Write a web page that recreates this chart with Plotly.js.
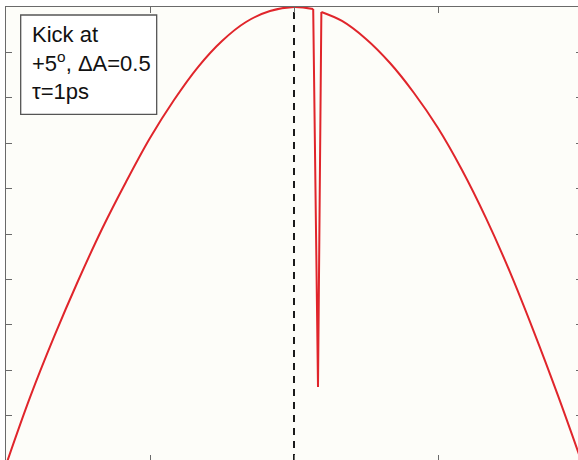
<!DOCTYPE html>
<html>
<head>
<meta charset="utf-8">
<script src="https://cdn.plot.ly/plotly-3.0.1.min.js"></script>
<style>
  html, body { margin: 0; padding: 0; overflow: hidden; background: #ffffff; }
  #chart { width: 590px; height: 470px; }
</style>
</head>
<body>
<div id="chart"></div>
<script>
// Angular profile (degrees) of the normalised signal, with the kick at +5 deg.
const leftAngles  = [-60, -55, -50, -45, -40, -35, -30, -25, -20, -15, -10, -5, 0, 4];
const leftValues  = [0.4956, 0.5700, 0.6366, 0.6982, 0.7555, 0.8073, 0.8557, 0.8976, 0.9339, 0.9626, 0.9835, 0.9956, 1.0, 0.9978];

const kickAngles  = [4, 5, 5.7];
const kickValues  = [0.9978, 0.5815, 0.9945];

const rightAngles = [5.7, 10, 15, 20, 25, 30, 35, 40, 45, 50, 55, 60];
const rightValues = [0.9945, 0.9846, 0.9648, 0.9383, 0.9053, 0.8667, 0.8205, 0.7675, 0.7080, 0.6420, 0.5720, 0.4980];

const xTicks = [-60, -30, 0, 30, 60];
const yTicks = [0.5, 0.55, 0.6, 0.65, 0.7, 0.75, 0.8, 0.85, 0.9, 0.95, 1.0];

const labelLines = ['Kick at', '+5<sup>o</sup>, \u0394A=0.5', '\u03c4=1ps'];

const red = '#e0252b';
const axisGrey = '#6a6a6a';

const traces = [
  { x: leftAngles, y: leftValues, mode: 'lines', line: { color: red, width: 2, shape: 'spline', smoothing: 1 }, hoverinfo: 'skip' },
  { x: kickAngles, y: kickValues, mode: 'lines', line: { color: red, width: 2 }, hoverinfo: 'skip' },
  { x: rightAngles, y: rightValues, mode: 'lines', line: { color: red, width: 2, shape: 'spline', smoothing: 1 }, hoverinfo: 'skip' }
];

const axisCommon = {
  showgrid: false,
  zeroline: false,
  showline: true,
  linecolor: axisGrey,
  linewidth: 1.3,
  mirror: 'ticks',
  ticks: 'inside',
  ticklen: 6,
  tickwidth: 1,
  tickcolor: axisGrey,
  showticklabels: false,
  tickmode: 'array'
};

// text block inside the framed label, one annotation per line
const lineY = [0.9404, 0.8788, 0.8143];
const annotations = labelLines.map((t, i) => ({
  xref: 'paper', yref: 'paper',
  x: 0.041, y: lineY[i],
  xanchor: 'left', yanchor: 'middle',
  text: t, showarrow: false,
  font: { family: 'Liberation Sans, Arial, sans-serif', size: 22, color: '#111111' }
}));

const layout = {
  width: 590,
  height: 470,
  margin: { l: 6, r: 8, t: 7, b: 9 },
  paper_bgcolor: '#ffffff',
  plot_bgcolor: '#fdfdf9',
  showlegend: false,
  xaxis: Object.assign({}, axisCommon, { range: [-60, 60], tickvals: xTicks }),
  yaxis: Object.assign({}, axisCommon, { range: [0.5, 1.0], tickvals: yTicks }),
  shapes: [
    { type: 'line', xref: 'x', yref: 'paper', x0: 0, x1: 0, y0: 0, y1: 1, layer: 'below',
      line: { color: '#1a1a1a', width: 2, dash: '7px,6px' } },
    { type: 'rect', xref: 'paper', yref: 'paper', x0: 0.0255, x1: 0.2616, y0: 0.7637, y1: 0.9824,
      fillcolor: '#ffffff', line: { color: '#555555', width: 1.3 }, layer: 'above' }
  ],
  annotations: annotations
};

Plotly.newPlot('chart', traces, layout, { staticPlot: true, displayModeBar: false });
</script>
</body>
</html>
